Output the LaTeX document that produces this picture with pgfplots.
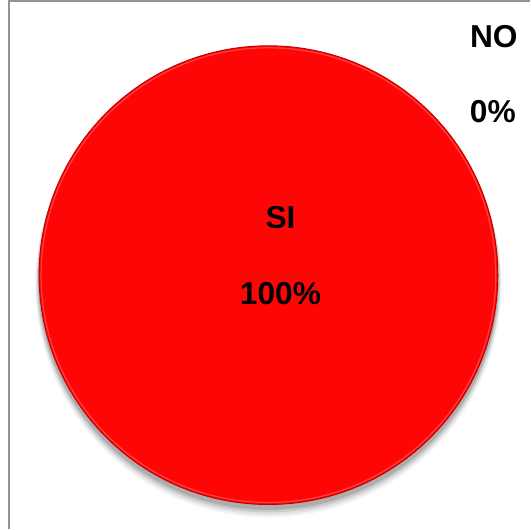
\documentclass[border=0pt]{standalone}
\usepackage{pgfplots}
\pgfplotsset{compat=1.18}
\usepackage{pgfplotstable}
\usepackage{fontspec}
\setmainfont{Liberation Sans}

\definecolor{pie1}{RGB}{255,6,6}
\definecolor{pieedge}{RGB}{190,0,0}

% share of each answer (percent)
\pgfplotstableread{
label value
SI    100
NO    0
}\piedata

\begin{document}
\pgfplotstablegetelem{0}{value}\of\piedata \edef\vsi{\pgfplotsretval}
\pgfplotstablegetelem{1}{value}\of\piedata \edef\vno{\pgfplotsretval}
\pgfmathsetmacro{\endang}{90-3.6*\vsi}
\begin{tikzpicture}
\begin{axis}[
    scale only axis,
    width=528pt, height=531pt,
    xmin=0, xmax=528, ymin=0, ymax=531,
    y dir=reverse,
    hide axis,
    clip=false,
]
  % frame (only left and top edges are visible in the crop)
  \draw[gray!85, line width=2pt] (axis cs:10.5,531) -- (axis cs:10.5,6.5) -- (axis cs:528,6.5);

  % soft shadow under the pie
  \fill[black, opacity=0.05] (axis cs:268,288) circle[radius=231.6];
  \fill[black, opacity=0.07] (axis cs:268,286.5) circle[radius=230.7];
  \fill[black, opacity=0.10] (axis cs:268,285) circle[radius=229.8];
  \fill[black, opacity=0.14] (axis cs:268,283.5) circle[radius=228.9];

  % pie slice from the table
  \fill[pie1] (axis cs:268,279) -- ++(90:228) arc[start angle=90, end angle=\endang, radius=228] -- cycle;
  \draw[pieedge, line width=0.9pt] (axis cs:268,279) circle[radius=228];
  \draw[red!60!white, line width=1.2pt, opacity=0.6] (axis cs:268,279) circle[radius=226];

  % labels
  \node[font=\bfseries\fontsize{31.5}{34}\selectfont] at (axis cs:280,222) {SI};
  \node[font=\bfseries\fontsize{31.5}{34}\selectfont] at (axis cs:280,297) {\vsi\%};
  \node[font=\bfseries\fontsize{31.5}{34}\selectfont] at (axis cs:492,42) {NO};
  \node[font=\bfseries\fontsize{31.5}{34}\selectfont] at (axis cs:491,116) {\vno\%};
\end{axis}
\end{tikzpicture}
\end{document}
